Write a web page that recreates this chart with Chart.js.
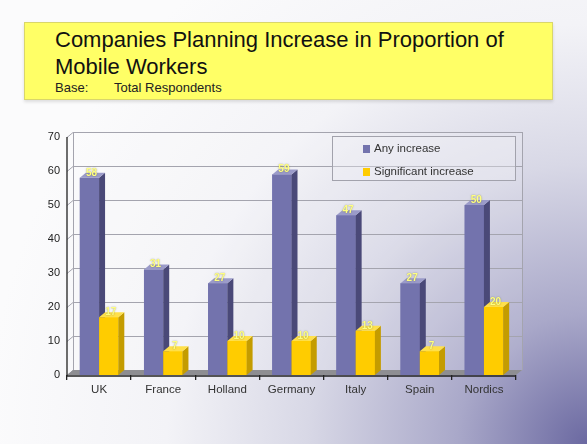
<!DOCTYPE html>
<html lang="en">
<head>
  <meta charset="UTF-8" />
  <title>Companies Planning Increase in Proportion of Mobile Workers</title>
  <script src="https://cdn.jsdelivr.net/npm/chart.js"></script>
  <style>
    html, body { margin: 0; padding: 0; }
    body {
      width: 587px;
      height: 444px;
      overflow: hidden;
      position: relative;
      font-family: "Liberation Sans", Arial, sans-serif;
      background: radial-gradient(circle at 100% 100%, #6b69a1 0px, #a9a8c9 130px, #d8d8e6 280px, #f3f3f7 420px, #fbfbfc 600px);
    }

    #title-box {
      position: absolute;
      left: 24px;
      top: 22px;
      width: 529px;
      height: 78px;
      box-sizing: border-box;
      background: #ffff66;
      border: 1px solid #d9d66a;
      box-shadow: 0 2px 3px rgba(0,0,0,0.12);
      padding: 3px 0 0 30px;
      color: #111;
    }
    #title-box h1 {
      margin: 0;
      font-size: 22px;
      font-weight: normal;
      line-height: 27px;
    }
    #title-box .base {
      font-size: 13px;
      line-height: 15px;
      color: #222;
    }
    #title-box .base span { display: inline-block; width: 59px; }

    #chart { position: absolute; left: 0; top: 0; }

    #legend {
      position: absolute;
      left: 332px;
      top: 136px;
      width: 184px;
      height: 45px;
      box-sizing: border-box;
      border: 1px solid #a2a2ac;
      background: rgba(240,240,246,0.35);
      padding: 4px 0 0 30px;
      font-size: 11.5px;
      color: #333;
    }
    #legend .item { height: 23px; line-height: 14px; }
    #legend .swatch {
      display: inline-block;
      width: 7px;
      height: 8px;
      margin-right: 4px;
      vertical-align: -1px;
    }
  </style>
</head>
<body>
  <div id="title-box">
    <h1>Companies Planning Increase in Proportion of<br>Mobile Workers</h1>
    <div class="base"><span>Base:</span>Total Respondents</div>
  </div>
  <canvas id="chart" width="587" height="444"></canvas>
  <div id="legend"></div>

  <script>
    const countries = ['UK', 'France', 'Holland', 'Germany', 'Italy', 'Spain', 'Nordics'];
    const anyIncrease = [58, 31, 27, 59, 47, 27, 50];
    const significantIncrease = [17, 7, 10, 10, 13, 7, 20];
    const seriesNames = ['Any increase', 'Significant increase'];
    const yTicks = [0, 10, 20, 30, 40, 50, 60, 70];

    // front / side / top colours for the extruded bars
    const faces = [
      { front: '#7373ad', side: '#4a4978', top: '#9b9bc9' },
      { front: '#ffcc00', side: '#c49c00', top: '#ffe04a' }
    ];
    const DX = 6, DY = 5;   // depth of the 3d box

    function drawBox(ctx, bar, f) {
      const l = bar.x - bar.width / 2, r = bar.x + bar.width / 2;
      ctx.fillStyle = f.front;
      ctx.fillRect(l, bar.y, r - l, bar.base - bar.y);
      ctx.fillStyle = f.side;
      ctx.beginPath();
      ctx.moveTo(r, bar.y);
      ctx.lineTo(r + DX, bar.y - DY);
      ctx.lineTo(r + DX, bar.base - DY);
      ctx.lineTo(r, bar.base);
      ctx.closePath();
      ctx.fill();
      ctx.fillStyle = f.top;
      ctx.beginPath();
      ctx.moveTo(l, bar.y);
      ctx.lineTo(l + DX, bar.y - DY);
      ctx.lineTo(r + DX, bar.y - DY);
      ctx.lineTo(r, bar.y);
      ctx.closePath();
      ctx.fill();
    }

    // back wall, gridlines, floor, and the bars as boxes
    const wallPlugin = {
      id: 'wall',
      beforeDatasetsDraw(chart) {
        const { ctx, chartArea: a, scales: { y } } = chart;
        ctx.save();
        ctx.fillStyle = 'rgba(255,255,255,0.12)';
        ctx.fillRect(a.left + DX, a.top - DY, a.right - a.left, a.bottom - a.top);

        ctx.strokeStyle = '#a4a4ae';
        ctx.lineWidth = 1;
        yTicks.forEach(v => {
          const py = Math.round(y.getPixelForValue(v)) + 0.5;
          ctx.beginPath();
          ctx.moveTo(a.left, py);
          ctx.lineTo(a.left + DX, py - DY);
          ctx.lineTo(a.right + DX, py - DY);
          ctx.stroke();
        });
        ctx.beginPath();
        ctx.moveTo(a.left + DX + 0.5, a.top - DY);
        ctx.lineTo(a.left + DX + 0.5, a.bottom - DY);
        ctx.moveTo(a.right + DX + 0.5, a.top - DY);
        ctx.lineTo(a.right + DX + 0.5, a.bottom - DY);
        ctx.stroke();

        // floor
        ctx.fillStyle = '#8e8e92';
        ctx.beginPath();
        ctx.moveTo(a.left, a.bottom);
        ctx.lineTo(a.right, a.bottom);
        ctx.lineTo(a.right + DX, a.bottom - DY);
        ctx.lineTo(a.left + DX, a.bottom - DY);
        ctx.closePath();
        ctx.fill();
        ctx.restore();
      },
      afterDatasetsDraw(chart) {
        const { ctx, chartArea: a } = chart;
        ctx.save();
        // back series first, then the front series over its side faces
        chart.data.datasets.forEach((ds, i) => {
          chart.getDatasetMeta(i).data.forEach(bar => drawBox(ctx, bar, faces[i]));
        });

        // front axis lines
        ctx.strokeStyle = '#222';
        ctx.lineWidth = 1.3;
        ctx.beginPath();
        ctx.moveTo(a.left, a.top);
        ctx.lineTo(a.left, a.bottom + 1);
        ctx.lineTo(a.right, a.bottom + 1);
        ctx.stroke();

        // value labels on the bar tops
        ctx.font = 'bold 10px "Liberation Sans", Arial, sans-serif';
        ctx.textAlign = 'center';
        ctx.textBaseline = 'middle';
        ctx.shadowColor = 'rgba(60,60,20,0.55)';
        ctx.shadowBlur = 1.5;
        ctx.fillStyle = '#ffff80';
        chart.data.datasets.forEach((ds, i) => {
          chart.getDatasetMeta(i).data.forEach((bar, j) => {
            ctx.fillText(String(ds.data[j]), bar.x + 2, bar.y - 5);
          });
        });
        ctx.restore();
      }
    };

    new Chart(document.getElementById('chart'), {
      type: 'bar',
      data: {
        labels: countries,
        datasets: [
          { label: seriesNames[0], data: anyIncrease, backgroundColor: faces[0].front },
          { label: seriesNames[1], data: significantIncrease, backgroundColor: faces[1].front }
        ]
      },
      options: {
        responsive: false,
        animation: false,
        layout: { padding: { left: 27, right: 71, top: 137, bottom: 39 } },
        plugins: { legend: { display: false }, tooltip: { enabled: false } },
        datasets: { bar: { categoryPercentage: 0.6, barPercentage: 1.0 } },
        scales: {
          x: {
            grid: { drawOnChartArea: false, drawTicks: true, tickLength: 5, color: '#222', lineWidth: 1.3 },
            border: { display: false },
            ticks: { color: '#333', padding: 3, font: { size: 11.5, family: '"Liberation Sans", Arial, sans-serif' } },
            afterFit(scale) { scale.height = 30; }
          },
          y: {
            min: 0,
            max: 70,
            grid: { display: false, drawTicks: false },
            border: { display: false },
            afterBuildTicks(scale) { scale.ticks = yTicks.map(v => ({ value: v })); },
            ticks: { color: '#222', padding: 7, font: { size: 11, family: '"Liberation Sans", Arial, sans-serif' } },
            afterFit(scale) { scale.width = 40; }
          }
        }
      },
      plugins: [wallPlugin]
    });

    // legend box inside the plot
    const legend = document.getElementById('legend');
    seriesNames.forEach((name, i) => {
      const item = document.createElement('div');
      item.className = 'item';
      const sw = document.createElement('span');
      sw.className = 'swatch';
      sw.style.background = faces[i].front;
      item.appendChild(sw);
      item.appendChild(document.createTextNode(name));
      legend.appendChild(item);
    });
  </script>
</body>
</html>
